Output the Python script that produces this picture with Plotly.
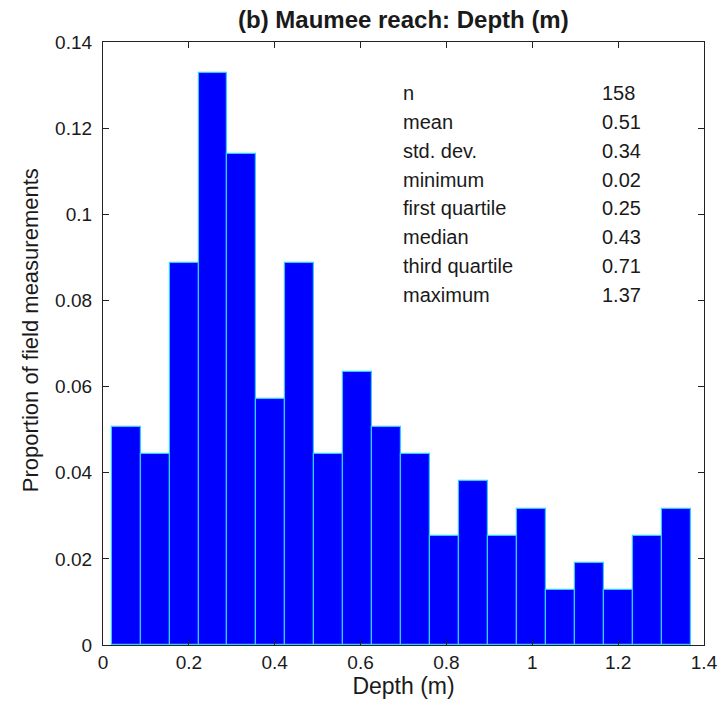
import numpy as np
import plotly.graph_objects as go

# Histogram data (proportion of field measurements per depth bin)
bin_start = 0.02
bin_end = 1.37
proportions = [0.0506, 0.0443, 0.0886, 0.1329, 0.1139, 0.0570, 0.0886, 0.0443,
               0.0633, 0.0506, 0.0443, 0.0253, 0.0380, 0.0253, 0.0316, 0.0127,
               0.0190, 0.0127, 0.0253, 0.0316]

stat_labels = ["n", "mean", "std. dev.", "minimum", "first quartile",
               "median", "third quartile", "maximum"]
stat_values = ["158", "0.51", "0.34", "0.02", "0.25", "0.43", "0.71", "1.37"]

y_ticks = [0, 0.02, 0.04, 0.06, 0.08, 0.1, 0.12, 0.14]
y_tick_labels = ["0", "0.02", "0.04", "0.06", "0.08", "0.1", "0.12", "0.14"]
x_ticks = [0, 0.2, 0.4, 0.6, 0.8, 1.0, 1.2, 1.4]
x_tick_labels = ["0", "0.2", "0.4", "0.6", "0.8", "1", "1.2", "1.4"]

nb = len(proportions)
edges = np.linspace(bin_start, bin_end, nb + 1)
centers = (edges[:-1] + edges[1:]) / 2
width = edges[1] - edges[0]

FONT = "Liberation Sans, Arial, Helvetica, sans-serif"
TXT = "#1a1a1a"

fig = go.Figure()
fig.add_trace(go.Bar(
    x=centers, y=proportions, width=width,
    marker=dict(color="#0000FF", line=dict(color="#33CCFF", width=1.2)),
    hoverinfo="x+y",
))

annotations = []
y0 = 0.1282
dy = 0.00671
for i, (lab, val) in enumerate(zip(stat_labels, stat_values)):
    y = y0 - i * dy
    annotations.append(dict(x=0.695, y=y, xref="x", yref="y", text=lab,
                            showarrow=False, xanchor="left", yanchor="middle",
                            font=dict(family=FONT, size=20, color=TXT)))
    annotations.append(dict(x=1.158, y=y, xref="x", yref="y", text=val,
                            showarrow=False, xanchor="left", yanchor="middle",
                            font=dict(family=FONT, size=20, color=TXT)))

annotations.append(dict(x=0.5, y=1, xref="paper", yref="paper",
                        text="<b>(b) Maumee reach: Depth (m)</b>",
                        showarrow=False, xanchor="center", yanchor="bottom",
                        yshift=7,
                        font=dict(family=FONT, size=24, color=TXT)))

# y-axis title (placed slightly above centre, as in the original)
annotations.append(dict(x=0, y=0.522, xref="paper", yref="paper",
                        text="Proportion of field measurements", textangle=-90,
                        showarrow=False, xanchor="center", yanchor="middle",
                        xshift=-73,
                        font=dict(family=FONT, size=22, color=TXT)))

axis_common = dict(
    showline=True, linecolor="#222", linewidth=1.2, mirror="ticks",
    ticks="inside", ticklen=6, tickcolor="#222", tickwidth=1,
    showgrid=False, zeroline=False, automargin=False,
    tickfont=dict(family=FONT, size=19, color=TXT),
)

fig.update_layout(
    width=723, height=710,
    margin=dict(l=103, r=19, t=42, b=65),
    paper_bgcolor="white", plot_bgcolor="white",
    bargap=0, showlegend=False,
    annotations=annotations,
    xaxis=dict(range=[0, 1.4], tickvals=x_ticks, ticktext=x_tick_labels,
               title=dict(text="Depth (m)", standoff=2,
                          font=dict(family=FONT, size=23, color=TXT)),
               **axis_common),
    yaxis=dict(range=[0, 0.14], tickvals=y_ticks, ticktext=y_tick_labels,
               ticklabelstandoff=6,
               **axis_common),
)

fig.write_html("out.html")
